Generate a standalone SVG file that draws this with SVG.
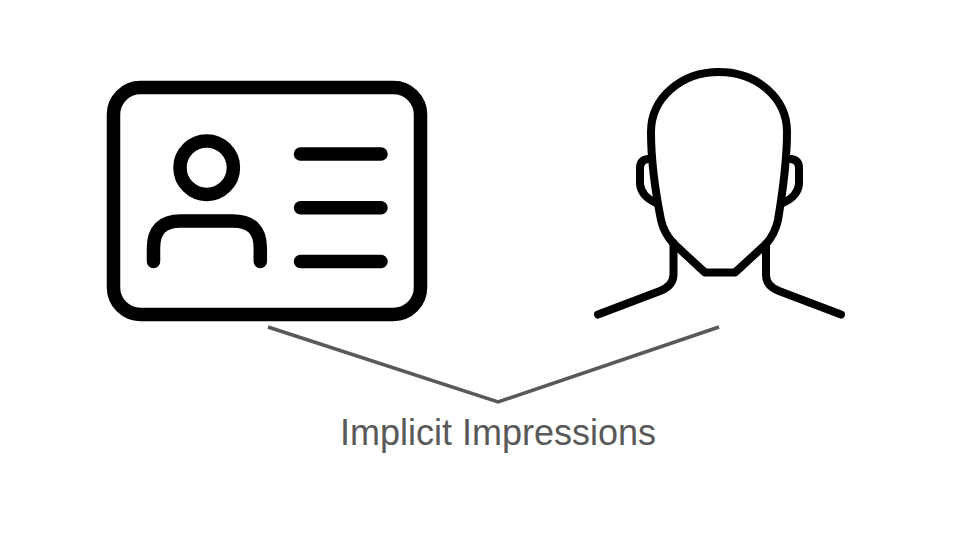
<svg xmlns="http://www.w3.org/2000/svg" width="960" height="540" viewBox="0 0 960 540">
<style>
.i{fill:none;stroke:#000;stroke-linecap:round;stroke-linejoin:round}
.c{fill:none;stroke:#595959;stroke-width:3.500}
text{font-family:"Liberation Sans",Arial,sans-serif;font-size:36px;fill:#595959}
</style>
<rect width="960" height="540" fill="#fff"/>
<g id="id-card">
<rect class="i" x="113.500" y="87.500" width="307" height="227" rx="27" stroke-width="13.500"/>
<circle class="i" cx="206.700" cy="167.700" r="26.700" stroke-width="13.500"/>
<path class="i" stroke-width="13.500" d="M153.500 261.500V248Q153.500 221 180.500 221H233Q260.300 221 260.300 248V261.500"/>
<path class="i" stroke-width="13.500" d="M300.500 154H381M300.500 207.700H381M300.500 261.500H381"/>
</g>
<g id="head">
<path class="i" stroke-width="8" d="M651 132C651 98 681 72 719 72C757 72 787 98 787 132C787 160 783 190 778 220Q775 234 766 244L735 272.500H705L673 243Q664 233 661 220C655 190 651 160 651 132Z"/>
<path class="i" stroke-width="8" d="M598 314.500L660 291Q673 286 673.500 275V243M841 314.500L779 291Q766 286 766 275V244"/>
<path class="i" stroke-width="8" d="M648 159Q640 160 640 168V184Q641 196 656 203M791 159Q799 160 799 168V184Q798 196 783 203"/>
</g>
<g id="connectors">
<path class="c" d="M268 327L498 402L719 327"/>
</g>
<g id="label"><text x="340" y="445">Implicit Impressions</text></g>
</svg>
